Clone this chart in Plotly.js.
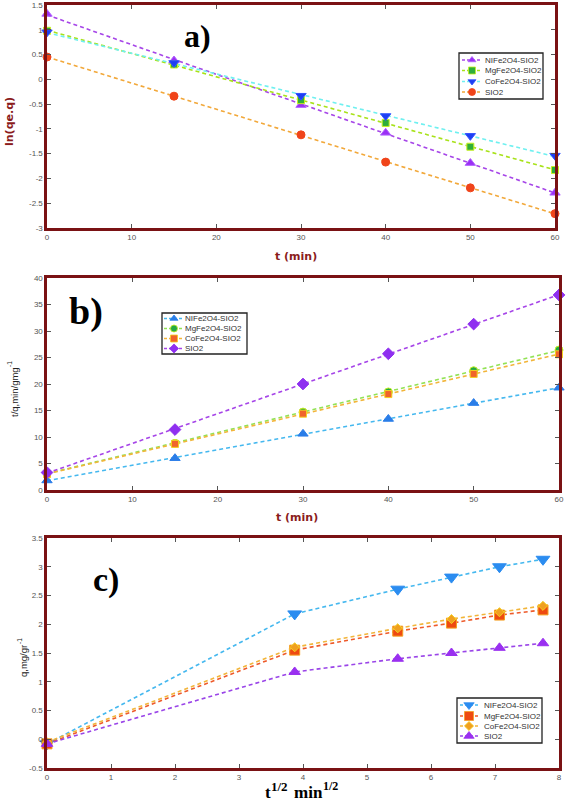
<!DOCTYPE html>
<html><head><meta charset="utf-8">
<script src="https://cdn.plot.ly/plotly-3.0.1.min.js"></script>
<style>html,body{margin:0;padding:0;background:#fff}#chart{width:567px;height:802px}</style>
</head><body><div id="chart"></div>
<script>
// ---------------- DATA ----------------
const seriesNames = ['NIFe2O4-SIO2','MgFe2O4-SIO2','CoFe2O4-SIO2','SIO2'];
const seriesNamesB = ['NIFe2O4-SIO2','MgFe2O4-SIO2','CoFe2O4-SIO2','SIO2'];
const seriesNamesC = ['NIFe2O4-SIO2','MgFe2O4-SIO2','CoFe2O4-SIO2','SIO2'];

// a) pseudo-first-order: ln(qe-q) vs t
const tA = [0, 15, 30, 40, 50, 60];
const aNiFe = [1.32, 0.38, -0.52, -1.08, -1.69, -2.29];
const aMgFe = [0.98, 0.30, -0.42, -0.88, -1.36, -1.83];
const aCoFe = [0.95, 0.33, -0.33, -0.74, -1.14, -1.54];
const aSiO2 = [0.45, -0.34, -1.12, -1.67, -2.19, -2.71];

// b) pseudo-second-order: t/q vs t
const tB = [0, 15, 30, 40, 50, 60];
const bNiFe = [1.8, 6.0, 10.6, 13.4, 16.4, 19.3];
const bMgFe = [3.2, 8.8, 14.7, 18.5, 22.5, 26.4];
const bCoFe = [3.0, 8.7, 14.4, 18.1, 21.9, 25.6];
const bSiO2 = [3.3, 11.4, 20.0, 25.7, 31.3, 36.8];

// c) intraparticle diffusion: q vs t^1/2
const sqrtT = [0, 3.87, 5.48, 6.32, 7.07, 7.75];
const cNiFe = [-0.08, 2.18, 2.61, 2.82, 3.00, 3.13];
const cMgFe = [-0.08, 1.55, 1.88, 2.02, 2.16, 2.25];
const cCoFe = [-0.05, 1.60, 1.93, 2.09, 2.21, 2.32];
const cSiO2 = [-0.08, 1.17, 1.40, 1.50, 1.59, 1.67];

// tick labels
const aXTicks = [0, 10, 20, 30, 40, 50, 60];
const aXLabels = ['0','10','20','30','40','50','60'];
const aYTicks = [1.5, 1, 0.5, 0, -0.5, -1, -1.5, -2, -2.5, -3];
const aYLabels = ['1.5','1','0.5','0','-0.5','-1','-1.5','-2','-2.5','-3'];
const bXTicks = [0, 10, 20, 30, 40, 50, 60];
const bXLabels = ['0','10','20','30','40','50','60'];
const bYTicks = [0, 5, 10, 15, 20, 25, 30, 35, 40];
const bYLabels = ['0','5','10','15','20','25','30','35','40'];
const cXTicks = [0, 1, 2, 3, 4, 5, 6, 7, 8];
const cXLabels = ['0','1','2','3','4','5','6','7','8'];
const cYTicks = [-0.5, 0, 0.5, 1, 1.5, 2, 2.5, 3, 3.5];
const cYLabels = ['-0.5','0','0.5','1','1.5','2','2.5','3','3.5'];

// ---------------- STYLES ----------------
const W = 567, H = 802;
const stylesA = [
  {sym:'triangle-up',  mc:'#9b2ff5', ml:'#b060ff', lc:'#a645e8', size:9},
  {sym:'square',       mc:'#2fae3a', ml:'#c8f020', lc:'#a8e21a', size:7},
  {sym:'triangle-down',mc:'#1d3ff2', ml:'#3050ff', lc:'#6ff0f0', size:9},
  {sym:'circle',       mc:'#f0441a', ml:'#f0441a', lc:'#f2a83a', size:8}
];
const stylesB = [
  {sym:'triangle-up',  mc:'#2a7de8', ml:'#2a7de8', lc:'#45b8ef', size:9},
  {sym:'circle',       mc:'#22a845', ml:'#c8f020', lc:'#93e255', size:8},
  {sym:'square',       mc:'#f0642a', ml:'#f5d020', lc:'#f2b53a', size:7},
  {sym:'diamond',      mc:'#8f2ff0', ml:'#8f2ff0', lc:'#a645e8', size:9}
];
const stylesC = [
  {sym:'triangle-down',mc:'#2b8cf0', ml:'#2b8cf0', lc:'#45b8ef', size:12},
  {sym:'square',       mc:'#ee4a12', ml:'#f5a020', lc:'#ee5a2a', size:10},
  {sym:'diamond',      mc:'#f0a020', ml:'#f5d020', lc:'#f2b53a', size:7},
  {sym:'triangle-up',  mc:'#9a30f0', ml:'#9a30f0', lc:'#9a45e8', size:10}
];

function fit(x, y) {
  const n = x.length;
  let sx=0, sy=0, sxx=0, sxy=0;
  for (let i=0;i<n;i++){sx+=x[i];sy+=y[i];sxx+=x[i]*x[i];sxy+=x[i]*y[i];}
  const m = (n*sxy - sx*sy)/(n*sxx - sx*sx);
  const b = (sy - m*sx)/n;
  return [m, b];
}

const traces = [];
function addFitPanel(x, ys, styles, xa, ya) {
  ys.forEach((y, i) => {
    const s = styles[i];
    const [m, b] = fit(x, y);
    const x0 = x[0], x1 = x[x.length-1];
    traces.push({x:[x0, x1], y:[m*x0+b, m*x1+b], xaxis:xa, yaxis:ya, mode:'lines',
      line:{color:s.lc, width:1.6, dash:'4px,3px'}, showlegend:false, hoverinfo:'skip', cliponaxis:false});
  });
  ys.forEach((y, i) => {
    const s = styles[i];
    traces.push({x:x, y:y, xaxis:xa, yaxis:ya, mode:'markers', showlegend:false, cliponaxis:false,
      marker:{symbol:s.sym, size:s.size, color:s.mc, line:{color:s.ml, width:1}}});
  });
}
function addLinePanel(x, ys, styles, xa, ya) {
  ys.forEach((y, i) => {
    const s = styles[i];
    traces.push({x:x, y:y, xaxis:xa, yaxis:ya, mode:'lines+markers', showlegend:false, cliponaxis:false,
      line:{color:s.lc, width:1.6, dash:'4px,3px'},
      marker:{symbol:s.sym, size:s.size, color:s.mc, line:{color:s.ml, width:1}}});
  });
}
addFitPanel(tA, [aNiFe, aMgFe, aCoFe, aSiO2], stylesA, 'x', 'y');
addFitPanel(tB, [bNiFe, bMgFe, bCoFe, bSiO2], stylesB, 'x2', 'y2');
addLinePanel(sqrtT, [cNiFe, cMgFe, cCoFe, cSiO2], stylesC, 'x3', 'y3');

// ---------------- LEGENDS (drawn in a full-page pixel overlay) ----------------
const shapes = [];
const annotations = [];
function addLegend(cfg, names, styles, msize) {
  shapes.push({type:'rect', xref:'x4', yref:'y4', x0:cfg.box[0], y0:cfg.box[1], x1:cfg.box[2], y1:cfg.box[3],
    line:{color:'#222', width:1.3}, fillcolor:'rgba(255,255,255,0)', layer:'below'});
  names.forEach((nm, i) => {
    const s = styles[i], yy = cfg.rows[i];
    traces.push({x:[cfg.seg[0], cfg.seg[1]], y:[yy, yy], xaxis:'x4', yaxis:'y4', mode:'lines',
      line:{color:s.lc, width:1.4, dash:'3px,2px'}, showlegend:false, hoverinfo:'skip'});
    traces.push({x:[cfg.mk], y:[yy], xaxis:'x4', yaxis:'y4', mode:'markers', showlegend:false, hoverinfo:'skip',
      marker:{symbol:s.sym, size:Math.min(msize, s.size), color:s.mc, line:{color:s.ml, width:0.8}}});
    annotations.push({xref:'x4', yref:'y4', x:cfg.txt, y:yy, text:nm, showarrow:false, xanchor:'left', yanchor:'middle',
      font:{family:'Liberation Sans, Arial', size:8, color:'#333'}});
  });
}
addLegend({box:[459,53,543,99], rows:[60,70.5,81.5,92], seg:[462,482], mk:472, txt:483}, seriesNames, stylesA, 7);
addLegend({box:[162,313,247,354], rows:[318.5,328.5,338.5,348.5], seg:[164,182], mk:174, txt:183}, seriesNamesB, stylesB, 7);
addLegend({box:[457,698,542,743], rows:[705,716,726,736], seg:[460,480], mk:469, txt:482}, seriesNamesC, stylesC, 9);

// ---------------- AXES ----------------
function px(x){return x/W;}
function py(y){return 1 - y/H;}
const frameColor = '#7a1214';
function axis(domain, range, vals, labels, anchor) {
  return {domain:domain, range:range, anchor:anchor, tickmode:'array', tickvals:vals, ticktext:labels,
    showline:true, linecolor:frameColor, linewidth:2.6, mirror:'ticks', ticks:'inside', ticklen:4,
    tickcolor:'#555', tickwidth:1, showgrid:false, zeroline:false, fixedrange:true,
    tickfont:{family:'Liberation Sans, Arial', size:8, color:'#555'}};
}

function ann(x, y, text, font, angle, xanchor) {
  annotations.push({xref:'paper', yref:'paper', x:px(x), y:py(y), text:text, showarrow:false,
    xanchor:xanchor||'center', yanchor:'middle', textangle:angle||0, font:font});
}
const panelFont = (s) => ({family:'Liberation Serif, Times New Roman', size:s, color:'#000'});
ann(197, 36, '<b>a)</b>', panelFont(32));
ann(86, 311, '<b>b)</b>', panelFont(38));
ann(106, 580, '<b>c)</b>', panelFont(34));
const redTitle = {family:'DejaVu Sans, Verdana', size:11, color:'#8b1c1c'};
ann(10, 122, '<b>ln(qe.q)</b>', redTitle, -90);
ann(296, 256, '<b>t (min)</b>', redTitle);
ann(297, 517, '<b>t (min)</b>', redTitle);
const smallTitle = {family:'Liberation Sans, Arial', size:9.5, color:'#222'};
const smallSup = {family:'Liberation Sans, Arial', size:6.5, color:'#222'};
ann(14, 392, 't/q,min/gmg', smallTitle, -90);
ann(10, 364, '-1', smallSup, -90);
ann(23, 661, 'q,mg/gr', smallTitle, -90);
ann(19, 641, '-1', smallSup, -90);
ann(263, 792, '<b>t</b>', panelFont(17), 0, 'left');
ann(269, 786, '<b>1/2</b>', panelFont(13), 0, 'left');
ann(292, 792, '<b>min</b>', panelFont(17), 0, 'left');
ann(321, 786, '<b>1/2</b>', panelFont(12), 0, 'left');

const layout = {
  width:W, height:H, margin:{l:0, r:0, t:0, b:0},
  paper_bgcolor:'#fff', plot_bgcolor:'rgba(0,0,0,0)', showlegend:false,
  xaxis: axis([px(47), px(555)], [0, 60], aXTicks, aXLabels, 'y'),
  yaxis: axis([py(228), py(5)], [-3, 1.5], aYTicks, aYLabels, 'x'),
  xaxis2: axis([px(47), px(559)], [0, 60], bXTicks, bXLabels, 'y2'),
  yaxis2: axis([py(490), py(278)], [0, 40], bYTicks, bYLabels, 'x2'),
  xaxis3: axis([px(47), px(559)], [0, 8], cXTicks, cXLabels, 'y3'),
  yaxis3: axis([py(768), py(538)], [-0.5, 3.5], cYTicks, cYLabels, 'x3'),
  xaxis4: {domain:[0,1], range:[0,W], anchor:'y4', visible:false, fixedrange:true},
  yaxis4: {domain:[0,1], range:[H,0], anchor:'x4', visible:false, fixedrange:true},
  shapes: shapes, annotations: annotations
};
Plotly.newPlot('chart', traces, layout, {staticPlot:true, displayModeBar:false});
</script></body></html>
